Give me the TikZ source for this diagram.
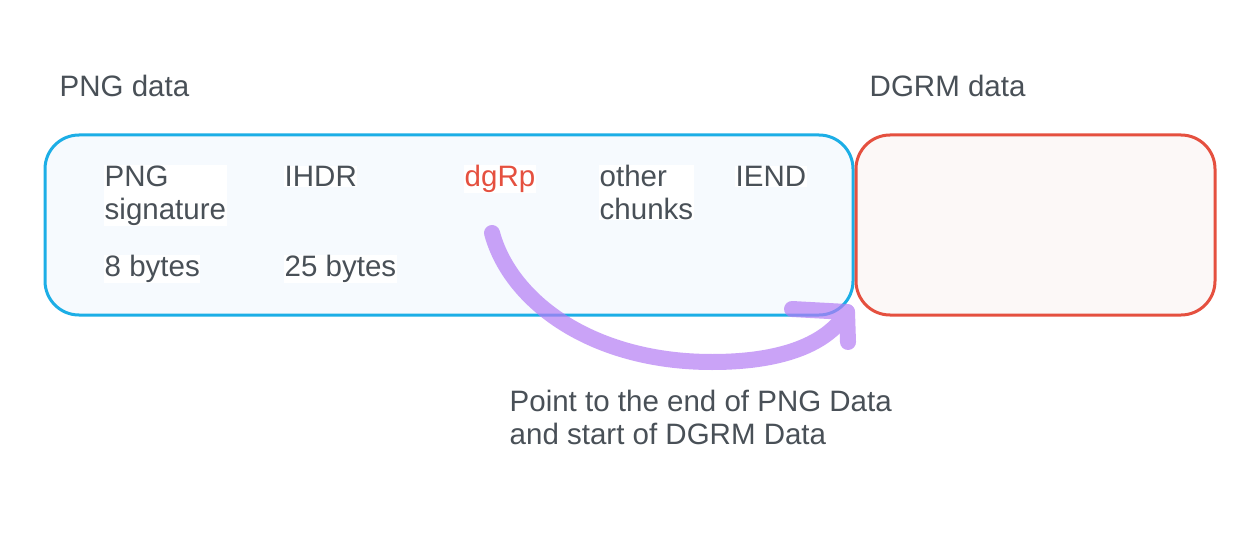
\documentclass[tikz,border=0pt]{standalone}
\usepackage{fontspec}
\setmainfont{Liberation Sans}
\usetikzlibrary{calc}
\definecolor{txt}{HTML}{495057}
\definecolor{bluestroke}{HTML}{1CAEE6}
\definecolor{bluefill}{HTML}{F6FAFE}
\definecolor{redstroke}{HTML}{E5503F}
\definecolor{redfill}{HTML}{FCF8F7}
\definecolor{arrowpurple}{HTML}{B47CF5}
\begin{document}
\begin{tikzpicture}[x=1pt,y=-1pt,
  lbl/.style={anchor=base west,inner sep=0.5pt,fill=white,text=txt,align=left,
    font=\fontsize{29.5}{33}\selectfont},
  box/.style={rounded corners=34pt,line width=3pt},
  purp/.style={draw=arrowpurple,line width=16pt,line cap=round,line join=round}]
\useasboundingbox[fill=white] (0,0) rectangle (1260,540);
% boxes
\draw[box,draw=bluestroke,fill=bluefill] (45,135) rectangle (853,315);
\draw[box,draw=redstroke,fill=redfill] (856,135) rectangle (1215,315);
% labels (multi-line nodes are anchored at the baseline of their last line)
\node[lbl] (pngdata) at (59,96.5) {PNG data};
\node[lbl] (dgrmdata) at (869,96.5) {DGRM data};
\node[lbl] (sig) at (104,219.5) {PNG\\signature};
\node[lbl] (ihdr) at (284,186.5) {IHDR};
\node[lbl,text=redstroke] (dgrp) at (464,186.5) {dgRp};
\node[lbl] (other) at (599,219.5) {other\\chunks};
\node[lbl] (iend) at (735,186.5) {IEND};
\node[lbl] (b8) at (104,276.5) {8 bytes};
\node[lbl] (b25) at (284,276.5) {25 bytes};
\node[lbl] (note) at (509,444.5) {Point to the end of PNG Data\\and start of DGRM Data};
% arrow
\coordinate (astart) at (492,233);
\coordinate (atip) at (847,312);
\begin{scope}[transparency group,opacity=0.7]
\draw[purp] (astart) .. controls (510,300) and (590,362) .. (712,362)
  .. controls (790,362) and (830,340) .. (atip);
\draw[purp] (792,309) -- (atip) -- (848,342);
\end{scope}
\end{tikzpicture}
\end{document}
